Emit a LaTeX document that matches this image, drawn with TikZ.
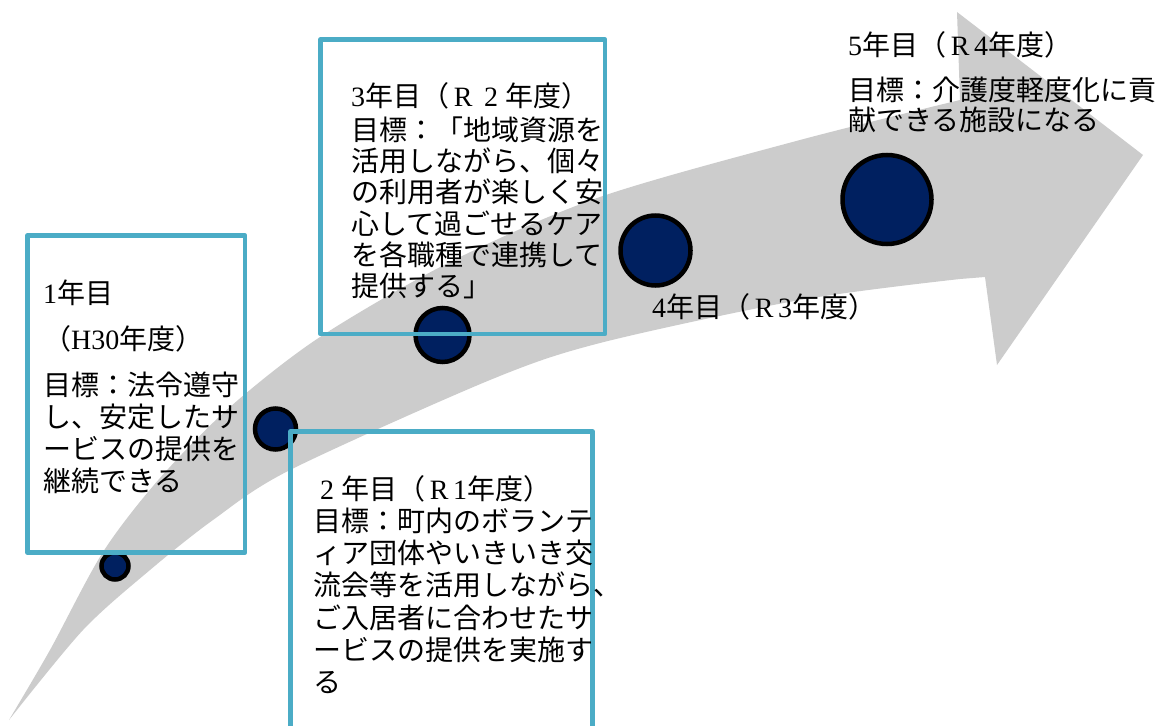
\documentclass[tikz,border=0pt]{standalone}
\usepackage{fontspec}
\newfontfamily\jp{Noto Sans CJK JP}
\newfontfamily\latn{Liberation Serif}
\newcommand\la[1]{{\latn #1}}
\newcommand\fw[1]{\makebox[1em]{\latn #1}}
\definecolor{navy}{HTML}{002060}
\definecolor{tealfive}{HTML}{4BACC6}
\definecolor{arrowgray}{HTML}{CCCCCC}
\begin{document}
\begin{tikzpicture}[x=1pt,y=-1pt,
  dot/.style={circle, draw=black, line width=4.5pt, fill=navy, inner sep=0pt},
  goalbox/.style={draw=tealfive, line width=4.5pt, line join=round, inner sep=0pt, outer sep=0pt, anchor=north west},
  txt/.style={anchor=base west, inner sep=0pt, text width=320pt, align=left, font=\jp\fontsize{28}{#1}\selectfont},
  txt/.default=32.3]
\useasboundingbox (0,0) rectangle (1155,725);
\fill[white] (0,0) rectangle (1155,725);
\clip (0,0) rectangle (1155,725);

% big curved arrow
\fill[arrowgray] plot[smooth] coordinates {(9,720) (50,650) (103,552) (160,478) (230,407) (320,337) (450,262) (600,197) (800,140) (960,100)}
  -- (957,12) -- (1143,155) -- (997,365) -- (985,277)
  -- plot[smooth] coordinates {(960,279) (800,300) (600,343) (490,380) (290,470) (213,520) (150,570) (83,630) (9,720)} -- cycle;

% milestones
\node[dot, minimum size=27pt] (c1) at (115,566) {};
\node[dot, minimum size=41pt] (c2) at (275.5,429) {};
\node[dot, minimum size=54pt] (c3) at (442.5,335) {};
\node[dot, minimum size=70pt] (c4) at (655.5,250.5) {};
\node[dot, minimum size=89pt] (c5) at (887,199.5) {};

% frames
\node[goalbox, minimum width=217.5pt, minimum height=317pt] (b1) at (27.5,235.5) {};
\node[goalbox, minimum width=284.5pt, minimum height=294.5pt] (b3) at (320.5,39.5) {};
\node[goalbox, minimum width=302pt, minimum height=320pt] (b2) at (290.5,431.5) {};

% texts
\node[txt] (t1) at (43,303) {\la{1}年目\\[13.7pt]（\la{H30}年度）\\[13.7pt]目標：法令遵守\\し、安定したサ\\ービスの提供を\\継続できる};
\node[txt=31.2] (t3) at (351,106) {\la{3}年目（\fw{R}\fw{2}年度）\\[3.3pt]目標：「地域資源を\\活用しながら、個々\\の利用者が楽しく安\\心して過ごせるケア\\を各職種で連携して\\提供する」};
\node[txt] (t2) at (313,499) {\fw{2}年目（\fw{R}\la{1}年度）\\目標：町内のボランテ\\ィア団体やいきいき交\\流会等を活用しながら、\\ご入居者に合わせたサ\\ービスの提供を実施す\\る};
\node[txt] (t4) at (652,317) {\la{4}年目（\fw{R}\la{3}年度）};
\node[txt=29] (t5) at (848,56) {\la{5}年目（\fw{R}\la{4}年度）\\[16pt]目標：介護度軽度化に貢\\献できる施設になる};
\end{tikzpicture}
\end{document}
